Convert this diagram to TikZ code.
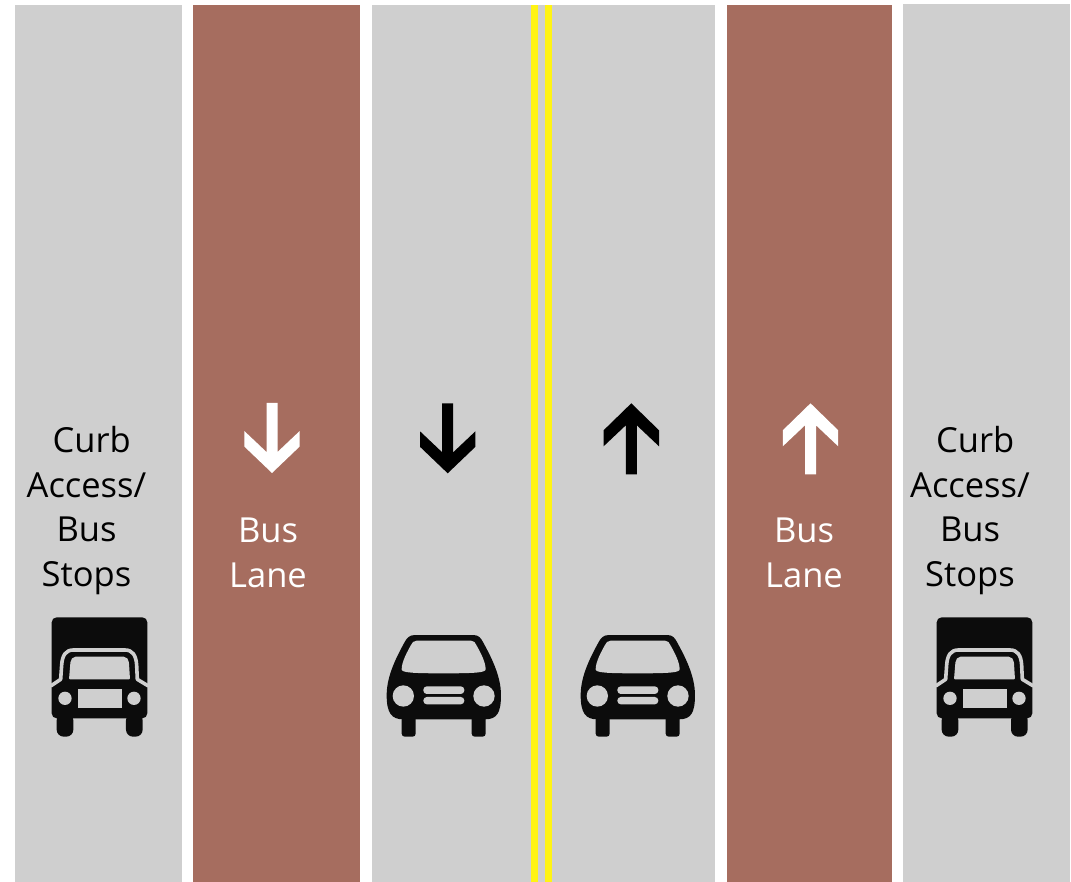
\documentclass[tikz,border=0pt]{standalone}
\usepackage{fontspec}
\usepackage{xcolor}
\setmainfont{Open Sans}
\definecolor{LaneGray}{HTML}{CFCFCF}
\definecolor{BusBrown}{HTML}{A66D5F}
\definecolor{LineYellow}{HTML}{FFF314}
\definecolor{IconBlack}{HTML}{0C0C0C}
\tikzset{
  lane/.style={fill=LaneGray},
  buslane/.style={fill=BusBrown},
  stripe/.style={fill=LineYellow},
  lbl/.style={align=center, inner sep=0pt, text=black, font=\fontsize{34.5}{44.7}\selectfont},
  buslbl/.style={lbl, text=white},
  truck/.pic={
    \begin{scope}[x=0.3333pt,y=-0.3333pt]
      \fill[IconBlack,rounded corners=5pt] (65,355) -- (65,52) -- (352,52) -- (352,355) -- cycle;
      \fill[IconBlack,rounded corners=7pt] (80,340) -- (80,410) -- (130,410) -- (130,340) -- cycle;
      \fill[IconBlack,rounded corners=7pt] (288,340) -- (288,410) -- (338,410) -- (338,340) -- cycle;
      \draw[LaneGray,line width=3.6pt,line join=round] (62,258) -- (92,238) -- (95,195)
        .. controls (97,165) and (108,150) .. (130,150) -- (285,150)
        .. controls (307,150) and (318,165) .. (320,195) -- (322,238) -- (355,258);
      \fill[LaneGray,rounded corners=1pt] (117,238) -- (121,190)
        .. controls (122,178) and (128,170) .. (140,170) -- (278,170)
        .. controls (290,170) and (296,178) .. (297,190) -- (300,238) -- cycle;
      \fill[LaneGray] (105,295) circle (20);
      \fill[LaneGray] (312,295) circle (20);
      \fill[LaneGray] (143,267) rectangle (275,325);
    \end{scope}
  },
  car/.pic={
    \begin{scope}[x=0.3333pt,y=-0.3333pt]
      \fill[IconBlack,rounded corners=3pt] (80,285) -- (80,350) -- (122,350) -- (122,285) -- cycle;
      \fill[IconBlack,rounded corners=3pt] (290,285) -- (290,350) -- (332,350) -- (332,285) -- cycle;
      \fill[IconBlack] (120,45) -- (295,45)
        .. controls (312,45) and (318,55) .. (325,68)
        .. controls (345,105) and (378,165) .. (378,225)
        .. controls (378,280) and (365,298) .. (330,298) -- (85,298)
        .. controls (50,298) and (35,280) .. (35,225)
        .. controls (35,165) and (68,105) .. (88,68)
        .. controls (95,55) and (102,45) .. (120,45) -- cycle;
      \fill[LaneGray] (125,62) -- (288,62)
        .. controls (298,62) and (300,68) .. (304,75)
        .. controls (315,95) and (332,125) .. (332,148)
        .. controls (332,158) and (300,160) .. (206,160)
        .. controls (112,160) and (80,158) .. (80,148)
        .. controls (80,125) and (97,95) .. (108,75)
        .. controls (112,68) and (115,62) .. (125,62) -- cycle;
      \fill[LaneGray] (85,228) circle (32);
      \fill[LaneGray] (327,228) circle (32);
      \fill[LaneGray,rounded corners=3.5pt] (145,199) rectangle (268,222);
      \fill[LaneGray,rounded corners=3.5pt] (145,231) rectangle (268,253);
    \end{scope}
  },
  downarrow/.pic={
    \fill (-5.5,0) -- (5.5,0) -- (5.5,49) -- (27.7,28) -- (27.7,43.5) -- (0,70)
      -- (-27.7,43.5) -- (-27.7,28) -- (-5.5,49) -- cycle;
  },
  uparrow/.pic={
    \fill (0,0) -- (27.7,27) -- (27.7,43) -- (5.5,22) -- (5.5,71) -- (-5.5,71)
      -- (-5.5,22) -- (-27.7,43) -- (-27.7,27) -- cycle;
  }
}
\begin{document}
\begin{tikzpicture}[x=1pt,y=-1pt]
  \useasboundingbox (0,0) rectangle (1071,882);
  \fill[white] (0,0) rectangle (1071,882);
  % lanes
  \fill[lane] (15,5) rectangle (182,882);
  \fill[buslane] (193,5) rectangle (360,882);
  \fill[lane] (372,5) rectangle (715,882);
  \fill[buslane] (727,5) rectangle (892,882);
  \fill[lane] (903,4) rectangle (1070,882);
  \fill[stripe] (530.5,5) rectangle (538,882);
  \fill[stripe] (544.5,5) rectangle (552,882);
  % arrows
  \pic[white] at (272,403) {downarrow};
  \pic[black] at (447.7,403.3) {downarrow};
  \pic[black] at (631.3,403.3) {uparrow};
  \pic[white] at (810.5,403.3) {uparrow};
  % vehicles
  \pic[IconBlack] at (30,600) {truck};
  \pic[IconBlack] at (915,600) {truck};
  \pic[IconBlack] at (375,620) {car};
  \pic[IconBlack] at (569,620) {car};
  % labels
  \node[lbl] (curbL) at (86.5,510.5) {\hspace{.3em}Curb\\Access/\\Bus\\Stops};
  \node[lbl] (curbR) at (970,510.5) {\hspace{.3em}Curb\\Access/\\Bus\\Stops};
  \node[buslbl] (busL) at (268,553) {Bus\\Lane};
  \node[buslbl] (busR) at (804,553) {Bus\\Lane};
\end{tikzpicture}
\end{document}
